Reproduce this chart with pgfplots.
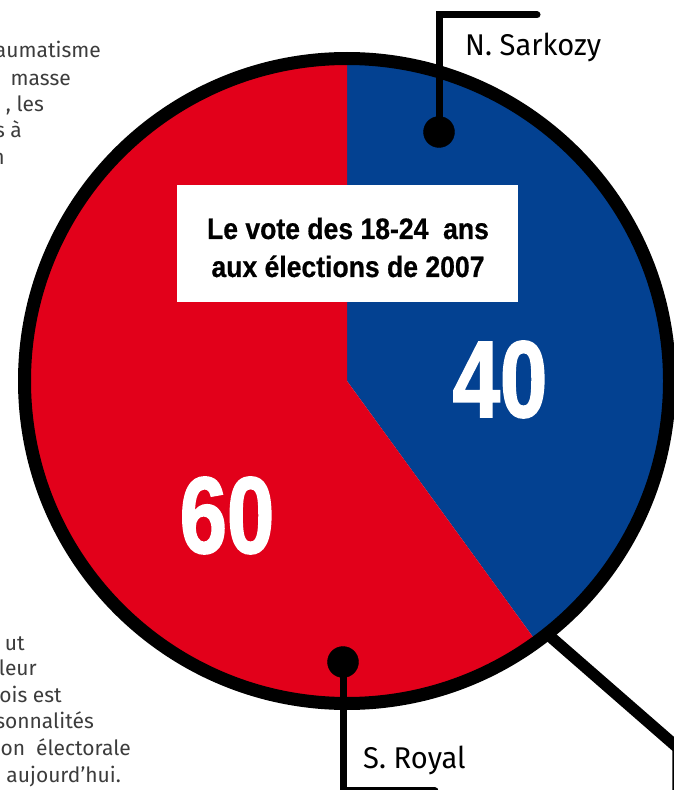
\documentclass[border=0pt]{standalone}
\usepackage{fontspec}
\setmainfont{Fira Sans}
\newfontfamily\titlefont{Liberation Sans}[FakeStretch=0.9, FakeBold=0.6]
\newfontfamily\bigfont{Liberation Sans}[FakeStretch=0.78, FakeBold=1.5]
\newfontfamily\labelfont{Fira Sans}[FakeStretch=0.97]
\usepackage{pgfplots}
\usepackage{pgfplotstable}
\pgfplotsset{compat=1.18}
\definecolor{sred}{RGB}{226,0,26}
\definecolor{sblue}{RGB}{3,65,145}
\definecolor{bodygray}{RGB}{60,60,60}

% share of the vote, 18-24 year olds, 2007
\pgfplotstableread{
candidate value
Sarkozy 40
Royal 60
}\votes
\pgfplotstablegetelem{0}{value}\of\votes \let\vSarkozy\pgfplotsretval
\pgfplotstablegetelem{1}{value}\of\votes \let\vRoyal\pgfplotsretval
\pgfmathsetmacro\aSarkozy{90-3.6*\vSarkozy}
\pgfmathsetmacro\aRoyal{90+3.6*\vRoyal}

\begin{document}
\begin{tikzpicture}
\begin{axis}[
    at={(0,0)}, anchor=south west,
    width=674bp, height=790bp, scale only axis,
    xmin=0, xmax=674, ymin=0, ymax=790,
    hide axis, clip=false,
]
% slices
\fill[sblue] (axis cs:347,409) -- (axis cs:347,731.5)
    arc[start angle=90, end angle=\aSarkozy, radius=322.5] -- cycle;
\fill[sred] (axis cs:347,409) -- (axis cs:347,731.5)
    arc[start angle=90, end angle=\aRoyal, radius=322.5] -- cycle;
\draw[black, line width=13bp] (axis cs:347,409) circle[radius=322.5];

% handle
\addplot[black, line width=11.5bp, line join=miter] coordinates {(545,158) (678,42) (678,-20)};

% callouts
\addplot[black, line width=7bp, line cap=round, line join=miter] coordinates {(439,658) (439,775) (537,775)};
\addplot[only marks, mark=*, mark size=15.5bp, black] coordinates {(439,658)};
\addplot[black, line width=7bp, line cap=round, line join=miter] coordinates {(343,128) (343,-1) (435,-1)};
\addplot[only marks, mark=*, mark size=15.5bp, black] coordinates {(343,128)};

\node[anchor=base west, inner sep=0pt, font=\labelfont\fontsize{30bp}{36bp}\selectfont] at (axis cs:465,734) {N. Sarkozy};
\node[anchor=base west, inner sep=0pt, font=\labelfont\fontsize{30bp}{36bp}\selectfont] at (axis cs:363,22) {S. Royal};

% title box
\fill[white] (axis cs:177,605) rectangle (axis cs:518,488);
\node[anchor=base, inner sep=0pt, font=\titlefont\bfseries\fontsize{29.5bp}{34bp}\selectfont] at (axis cs:348,551) {Le vote des 18-24~ ans};
\node[anchor=base, inner sep=0pt, font=\titlefont\bfseries\fontsize{29.5bp}{34bp}\selectfont] at (axis cs:348,513) {aux élections de 2007};

% values
\node[anchor=base, inner sep=0pt, text=white, font=\bigfont\bfseries\fontsize{109bp}{112bp}\selectfont] at (axis cs:500,373) {\vSarkozy};
\node[anchor=base, inner sep=0pt, text=white, font=\bigfont\bfseries\fontsize{109bp}{112bp}\selectfont] at (axis cs:227,237) {\vRoyal};

% article text cut by the page edge
\begin{scope}[every node/.style={anchor=base east, inner sep=0pt, text=bodygray, font=\fontsize{21bp}{26bp}\selectfont}]
\node at (axis cs:101,732) {aumatisme};
\node at (axis cs:71,704) {masse};
\node at (axis cs:44,678) {, les};
\node at (axis cs:22,652) {s à};
\node at (axis cs:5,625) {n};
\node at (axis cs:25,140) {ut};
\node at (axis cs:37,115) {leur};
\node at (axis cs:62,88) {ois est};
\node at (axis cs:94,62) {sonnalités};
\node at (axis cs:131,35) {on~ électorale};
\node at (axis cs:121,8) {aujourd’hui.};
\end{scope}
\end{axis}
\pgfresetboundingbox
\useasboundingbox (0,0) rectangle (674bp,790bp);
\end{tikzpicture}
\end{document}
